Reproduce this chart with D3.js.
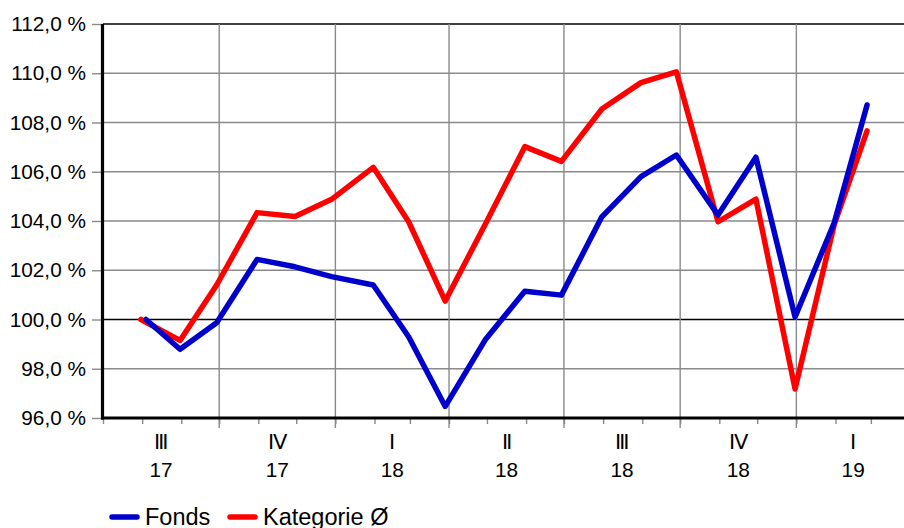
<!DOCTYPE html>
<head>
    <meta charset="utf-8">
    <script src="https://d3js.org/d3.v7.min.js"></script>
    <style>
    body { margin: 0; background: #fff; }
    text { font-family: "Liberation Sans", Arial, sans-serif; fill: #000; }
    </style>
</head>
<body>
<div id="chart"></div>
<script>
// monthly values
var katDates = ["2017-07-31","2017-08-31","2017-09-29","2017-10-31","2017-11-30","2017-12-29",
                "2018-01-31","2018-02-28","2018-03-29","2018-04-30","2018-05-31","2018-06-29",
                "2018-07-31","2018-08-31","2018-09-28","2018-10-31","2018-11-30","2018-12-31",
                "2019-01-31","2019-02-26"];
var katValues = [100.0, 99.15, 101.4, 104.34, 104.18, 104.88, 106.18, 103.97, 100.75, 103.9,
                 107.02, 106.42, 108.55, 109.62, 110.06, 103.97, 104.89, 97.18, 103.85, 107.66];

var fondsDates = ["2017-08-04","2017-08-31","2017-09-29","2017-10-31","2017-11-30","2017-12-29",
                  "2018-01-31","2018-02-28","2018-03-29","2018-04-30","2018-05-31","2018-06-29",
                  "2018-07-31","2018-08-31","2018-09-28","2018-10-31","2018-11-30","2018-12-31",
                  "2019-01-31","2019-02-26"];
var fondsValues = [100.0, 98.79, 99.87, 102.44, 102.14, 101.74, 101.40, 99.30, 96.47, 99.2,
                   101.15, 100.99, 104.17, 105.80, 106.68, 104.24, 106.59, 100.1, 103.93, 108.71];

var yTicks = [96, 98, 100, 102, 104, 106, 108, 110, 112];
var quarterStarts = ["2017-07-01","2017-10-01","2018-01-01","2018-04-01","2018-07-01","2018-10-01","2019-01-01","2019-04-01"];
var quarterNames = ["\u2162","\u2163","\u2160","\u2161","\u2162","\u2163","\u2160"];
var quarterYears = ["17","17","18","18","18","18","19"];
var legendNames = ["Fonds", "Kategorie \u00d8"];

var parse = d3.timeParse("%Y-%m-%d");
var W = 904, H = 528;
var pLeft = 103, pTop = 24, pBottom = 418, pRight = 910;

var svg = d3.select("#chart").append("svg")
    .attr("width", W)
    .attr("height", H);

var x = d3.scaleTime()
    .domain([parse("2017-07-01"), parse("2019-04-01")])
    .range([pLeft, pRight]);

var y = d3.scaleLinear()
    .domain([96, 112])
    .range([pBottom, pTop]);

var qDates = quarterStarts.map(parse);

// horizontal grid
svg.append("g")
    .selectAll("line")
    .data(yTicks)
    .enter().append("line")
      .attr("x1", pLeft).attr("x2", W)
      .attr("y1", function(d) { return y(d); })
      .attr("y2", function(d) { return y(d); })
      .attr("stroke", function(d) { return (d == 100 || d == 112) ? "#000" : "#8a8a8a"; })
      .attr("stroke-width", function(d) { return (d == 100 || d == 112) ? 1.6 : 1.4; });

// vertical grid at quarter starts, running a bit below the axis
svg.append("g")
    .selectAll("line")
    .data(qDates.slice(1, 7))
    .enter().append("line")
      .attr("x1", function(d) { return x(d); })
      .attr("x2", function(d) { return x(d); })
      .attr("y1", pTop).attr("y2", pBottom + 10)
      .attr("stroke", "#8a8a8a")
      .attr("stroke-width", 1.4);

// monthly minor ticks
var gx = svg.append("g")
    .attr("transform", "translate(0," + pBottom + ")")
    .call(d3.axisBottom(x).tickValues(d3.timeMonth.range(qDates[0], qDates[7])).tickSize(6).tickFormat(""));
gx.select(".domain").remove();
gx.selectAll(".tick line").attr("stroke", "#8a8a8a").attr("stroke-width", 1.4);

// y axis with labels
var gy = svg.append("g")
    .attr("transform", "translate(" + pLeft + ",0)")
    .call(d3.axisLeft(y).tickValues(yTicks).tickSize(11).tickPadding(6)
        .tickFormat(function(d) { return d.toFixed(1).replace(".", ",") + " %"; }));
gy.select(".domain").remove();
gy.selectAll(".tick line").attr("stroke", "#8a8a8a").attr("stroke-width", 1.4);
gy.selectAll(".tick text")
    .style("font-size", "20.8px")
    .style("font-family", "'Liberation Sans', Arial, sans-serif")
    .attr("fill", "#000");

// quarter labels
var qLab = svg.append("g")
    .selectAll("g")
    .data(quarterNames)
    .enter().append("g")
      .attr("transform", function(d, i) {
          return "translate(" + (x(qDates[i]) + x(qDates[i + 1])) / 2 + ",0)";
      });
qLab.append("text")
    .attr("y", 449)
    .attr("text-anchor", "middle")
    .style("font-size", "20.8px")
    .text(function(d) { return d; });
qLab.append("text")
    .attr("y", 477)
    .attr("text-anchor", "middle")
    .style("font-size", "20.8px")
    .text(function(d, i) { return quarterYears[i]; });

// axis lines
svg.append("line")
    .attr("x1", pLeft - 0.5).attr("x2", pLeft - 0.5)
    .attr("y1", pTop).attr("y2", pBottom + 1.5)
    .attr("stroke", "#000").attr("stroke-width", 3.2);
svg.append("line")
    .attr("x1", pLeft - 2).attr("x2", W)
    .attr("y1", pBottom).attr("y2", pBottom)
    .attr("stroke", "#000").attr("stroke-width", 3.2);

// data lines
var line = d3.line()
    .x(function(d) { return x(d.date); })
    .y(function(d) { return y(d.value); });

var kat = katDates.map(function(d, i) { return {date: parse(d), value: katValues[i]}; });
var fonds = fondsDates.map(function(d, i) { return {date: parse(d), value: fondsValues[i]}; });

svg.append("path")
    .datum(kat)
    .attr("fill", "none")
    .attr("stroke", "#ff0000")
    .attr("stroke-width", 5.5)
    .attr("stroke-linejoin", "round")
    .attr("stroke-linecap", "round")
    .attr("d", line);

svg.append("path")
    .datum(fonds)
    .attr("fill", "none")
    .attr("stroke", "#0000cc")
    .attr("stroke-width", 5.5)
    .attr("stroke-linejoin", "round")
    .attr("stroke-linecap", "round")
    .attr("d", line);

// legend
var legColors = ["#0000cc", "#ff0000"];
var legX = [110, 228];
var leg = svg.append("g")
    .selectAll("g")
    .data(legendNames)
    .enter().append("g")
      .attr("transform", function(d, i) { return "translate(" + legX[i] + ",517)"; });
leg.append("line")
    .attr("x1", 2).attr("x2", 27)
    .attr("stroke", function(d, i) { return legColors[i]; })
    .attr("stroke-width", 5.5)
    .attr("stroke-linecap", "round");
leg.append("text")
    .attr("x", 35)
    .attr("y", 8)
    .style("font-size", "23.5px")
    .text(function(d) { return d; });
</script>
</body>
</html>
